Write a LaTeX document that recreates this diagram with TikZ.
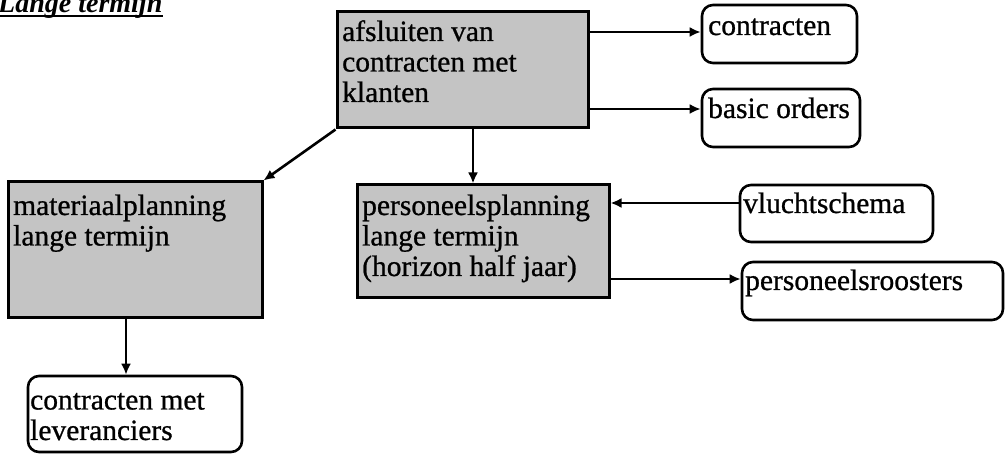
\documentclass[tikz,border=0pt]{standalone}
\usepackage{fontspec}
\setmainfont{Liberation Serif}
\newfontfamily\boxfont[FakeBold=0.8]{Liberation Serif}
\usetikzlibrary{arrows.meta}
\definecolor{boxgray}{RGB}{196,196,196}
\begin{document}
\begin{tikzpicture}[x=1pt,y=-1pt,
  procbox/.style={draw, fill=boxgray, line width=3pt, inner sep=0pt},
  databox/.style={draw, rounded corners=11pt, line width=2.6pt, inner sep=0pt},
  boxtext/.style={anchor=base west, inner sep=0pt, align=left,
    font=\boxfont\fontsize{29.5}{30.5}\selectfont},
  arr/.style={line width=2.6pt, -{Latex[length=11pt,width=10pt]}}]
\useasboundingbox (0,0) rectangle (1005,454);

% title
\node[anchor=base west, inner sep=0pt,
  font=\fontsize{28}{30}\selectfont\bfseries\itshape] (title) at (-2,13) {Lange termijn};
\draw[line width=1.8pt] ([yshift=-3pt]title.base west) -- ([yshift=-3pt]title.base east);

% process boxes
\node[procbox, minimum width=251pt, minimum height=116pt] (klant) at (462.5,70) {};
\node[procbox, minimum width=254pt, minimum height=136pt] (mat) at (135,250) {};
\node[procbox, minimum width=252pt, minimum height=113pt] (pers) at (483,241.5) {};

% data boxes
\node[databox, minimum width=155pt, minimum height=58pt] (contr) at (779.5,34) {};
\node[databox, minimum width=158pt, minimum height=58pt] (basic) at (781,118) {};
\node[databox, minimum width=193pt, minimum height=57pt] (vlucht) at (836.5,213.5) {};
\node[databox, minimum width=261pt, minimum height=58pt] (rooster) at (872.5,291) {};
\node[databox, minimum width=214pt, minimum height=76pt] (lever) at (135,414) {};

% box texts (placed by the baseline of their last line)
\node[boxtext] (tklant) at (342,102) {afsluiten van\\contracten met\\klanten};
\node[boxtext] (tmat) at (13,245.5) {materiaalplanning\\lange termijn};
\node[boxtext] (tpers) at (362,276) {personeelsplanning\\lange termijn\\(horizon half jaar)};
\node[boxtext] (tcontr) at (708,35) {contracten};
\node[boxtext] (tbasic) at (708,118) {basic orders};
\node[boxtext] (tvlucht) at (743,213) {vluchtschema};
\node[boxtext] (trooster) at (745,290) {personeelsroosters};
\node[boxtext] (tlever) at (30,440) {contracten met\\leveranciers};

% connector heights and columns
\coordinate (ycontr) at (0,32);
\coordinate (ybasic) at (0,109);
\coordinate (xpers) at (473,0);
\coordinate (xmat) at (126,0);
\coordinate (yvlucht) at (0,203);
\coordinate (yrooster) at (0,279);

% connectors
\draw[arr] (klant.east |- ycontr) -- (contr.west |- ycontr);
\draw[arr] (klant.east |- ybasic) -- (basic.west |- ybasic);
\draw[arr] (klant.south -| xpers) -- (pers.north -| xpers);
\draw[arr] (klant.south west) -- (mat.north east);
\draw[arr] (mat.south -| xmat) -- (lever.north -| xmat);
\draw[arr] (vlucht.west |- yvlucht) -- (pers.east |- yvlucht);
\draw[arr] (pers.east |- yrooster) -- (rooster.west |- yrooster);
\end{tikzpicture}
\end{document}
